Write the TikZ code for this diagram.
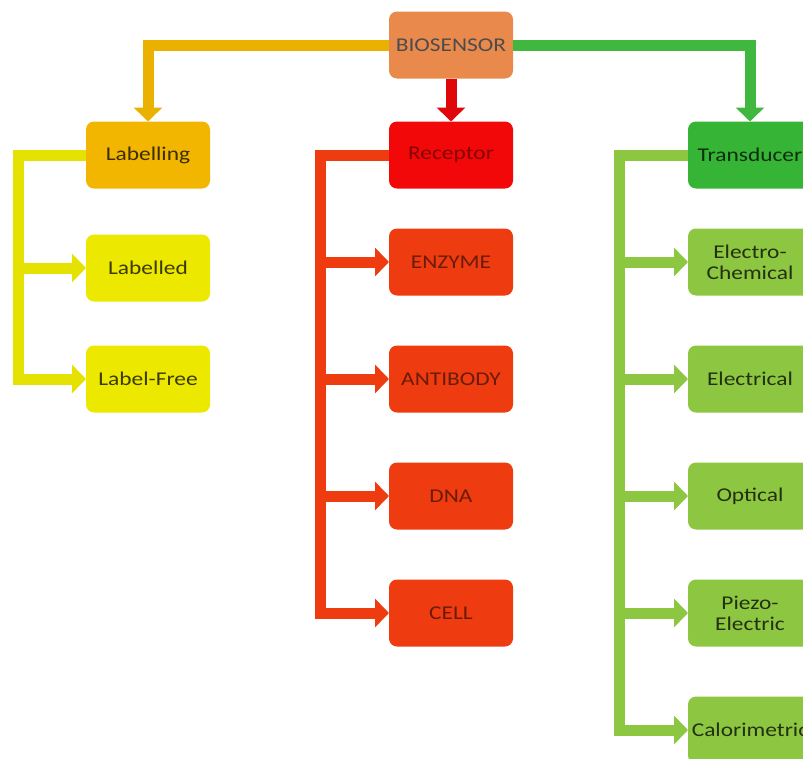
\documentclass[tikz,border=0pt]{standalone}
\usepackage{fontspec}
\setmainfont{Carlito}[FakeStretch=1.2]
\usepackage{xcolor}
\usetikzlibrary{arrows.meta, positioning}

\definecolor{biofill}{RGB}{233,138,76}
\definecolor{labfill}{RGB}{242,182,0}
\definecolor{yelfill}{RGB}{236,232,0}
\definecolor{recfill}{RGB}{242,8,8}
\definecolor{redfill}{RGB}{238,60,16}
\definecolor{trafill}{RGB}{54,180,54}
\definecolor{grnfill}{RGB}{141,198,65}

\begin{document}
\begin{tikzpicture}[
  x=1pt, y=-1pt,
  node distance=50pt,
  every node/.style={font=\fontsize{19.5}{21}\selectfont},
  box/.style={rectangle, rounded corners=8pt, minimum width=124pt, minimum height=67pt, inner sep=2pt, outer sep=0pt, align=center},
  root/.style={box, fill=biofill, text=black!70},
  labhead/.style={box, fill=labfill, text=labfill!25!black},
  labitem/.style={box, fill=yelfill, text=yelfill!25!black},
  rechead/.style={box, fill=recfill, text=recfill!55!black},
  recitem/.style={box, fill=redfill, text=redfill!45!black},
  trahead/.style={box, fill=trafill, text=trafill!25!black},
  traitem/.style={box, fill=grnfill, text=grnfill!25!black},
  link/.style={line width=11pt, -{Triangle[width=28pt, length=14pt]}}
]
\useasboundingbox (0,0) rectangle (803,758);

% Root
\node[root] (bio) at (451,45) {BIOSENSOR};

% Labelling branch
\node[labhead] (labelling) at (148,155) {Labelling};
\node[labitem, below=46pt of labelling] (labelled) {Labelled};
\node[labitem, below=44pt of labelled] (labelfree) {Label-Free};

% Receptor branch
\node[rechead] (receptor) at (451,155) {Receptor};
\node[recitem, below=40pt of receptor] (enzyme) {ENZYME};
\node[recitem, below=50pt of enzyme] (antibody) {ANTIBODY};
\node[recitem, below=50pt of antibody] (dna) {DNA};
\node[recitem, below=50pt of dna] (cell) {CELL};

% Transducer branch
\node[trahead] (transducer) at (750,155) {Transducer};
\node[traitem, below=40pt of transducer] (electrochem) {Electro-\\Chemical};
\node[traitem, below=50pt of electrochem] (electrical) {Electrical};
\node[traitem, below=50pt of electrical] (optical) {Optical};
\node[traitem, below=50pt of optical] (piezo) {Piezo-\\Electric};
\node[traitem, below=50pt of piezo] (calori) {Calorimetric};

\coordinate (labtrunk) at (18,155);
\coordinate (rectrunk) at (320,155);
\coordinate (tratrunk) at (619,155);

% Connections - Root
\draw[link, color=labfill!97!black] (bio.west) -| (labelling.north);
\draw[link, color=recfill!92!black] (bio.south) -- (receptor.north);
\draw[link, color=trafill!95!white] (bio.east) -| (transducer.north);

% Connections - Labelling
\draw[link, color=yelfill!97!black] (labelling.west) -- (labtrunk) |- (labelfree.west);
\draw[link, color=yelfill!97!black] (labtrunk |- labelled.west) -- (labelled.west);

% Connections - Receptor
\draw[link, color=redfill] (receptor.west) -- (rectrunk) |- (cell.west);
\foreach \n in {enzyme, antibody, dna}
  \draw[link, color=redfill] (rectrunk |- \n.west) -- (\n.west);

% Connections - Transducer
\draw[link, color=grnfill] (transducer.west) -- (tratrunk) |- (calori.west);
\foreach \n in {electrochem, electrical, optical, piezo}
  \draw[link, color=grnfill] (tratrunk |- \n.west) -- (\n.west);

\end{tikzpicture}
\end{document}
